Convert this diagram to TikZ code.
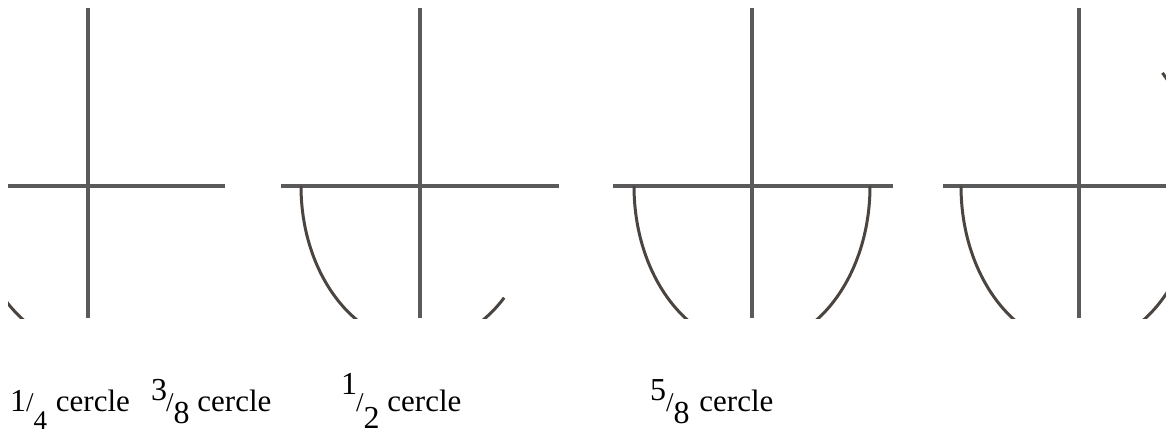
\documentclass[tikz,border=0pt]{standalone}
\usepackage{fontspec}
\setmainfont{Liberation Serif}
\definecolor{axisgray}{HTML}{5A5A5A}
\definecolor{arcgray}{HTML}{4A4540}
\tikzset{
  axisline/.style={draw=axisgray, line width=4pt},
  arcline/.style={draw=arcgray, line width=3pt},
  lbl/.style={anchor=base west, inner sep=0pt, font=\fontsize{31}{36}\selectfont}
}
\newcommand{\dg}[1]{{\fontsize{32}{34}\selectfont #1}}
\newcommand{\dgs}[1]{{\fontsize{27}{29}\selectfont #1}}
\begin{document}
\begin{tikzpicture}[x=1pt,y=1pt]
\useasboundingbox (0,0) rectangle (1166,434);
% panel 1
\begin{scope}
  \clip (8,116) rectangle (225,426);
  \draw[axisline] (8,248) -- (225,248);
  \draw[axisline] (88,116) -- (88,426);
  \draw[arcline] (88-118,248) arc[start angle=180, end angle=270, x radius=118, y radius=160];
\end{scope}
% panel 2
\begin{scope}
  \clip (281,116) rectangle (559,426);
  \draw[axisline] (281,248) -- (559,248);
  \draw[axisline] (420,116) -- (420,426);
  \draw[arcline] (420-119,248) arc[start angle=180, end angle=315, x radius=119, y radius=158];
\end{scope}
% panel 3
\begin{scope}
  \clip (613,116) rectangle (893,426);
  \draw[axisline] (613,248) -- (893,248);
  \draw[axisline] (752,116) -- (752,426);
  \draw[arcline] (752-118,248) arc[start angle=180, end angle=360, x radius=118, y radius=160];
\end{scope}
% panel 4
\begin{scope}
  \clip (943,116) rectangle (1166,426);
  \draw[axisline] (943,248) -- (1166,248);
  \draw[axisline] (1079,116) -- (1079,426);
  \draw[arcline] (1079-118,248) arc[start angle=180, end angle=405, x radius=118, y radius=160];
\end{scope}
% labels
\node[lbl] (l1) at (10,23) {\dg{1}\dgs{/}\raisebox{-18pt}{\dgs{4}}\kern1pt{} cercle};
\node[lbl] (l2) at (151,23) {\raisebox{11pt}{\dg{3}}\kern-1pt\dgs{/}\raisebox{-12pt}{\dg{8}} cercle};
\node[lbl] (l3) at (341,23) {\raisebox{17pt}{\dg{1}}\kern-1pt\dgs{/}\raisebox{-17pt}{\dg{2}} cercle};
\node[lbl] (l4) at (650,23) {\raisebox{11pt}{\dg{5}}\dgs{/}\raisebox{-12pt}{\dg{8}}\kern2pt{} cercle};
\end{tikzpicture}
\end{document}
